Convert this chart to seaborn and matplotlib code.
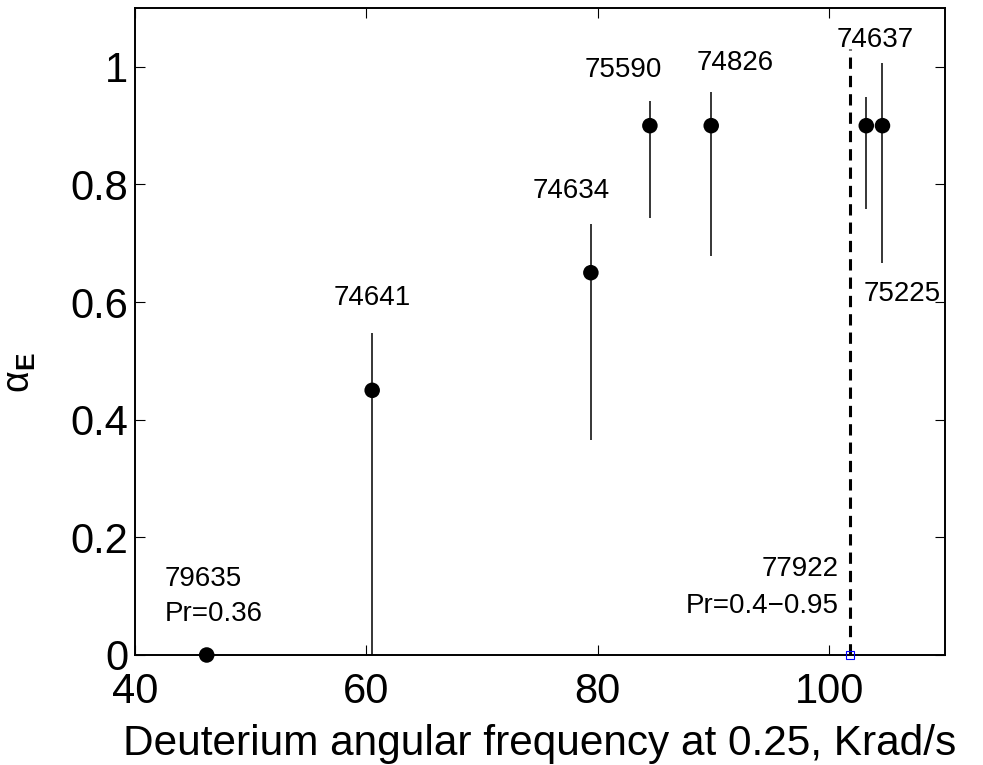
import matplotlib
matplotlib.use("Agg")
import matplotlib.pyplot as plt
import numpy as np
import pandas as pd
import seaborn as sns

# ---- data ----
shots = ["79635", "74641", "74634", "75590", "74826", "74637", "75225"]
freq = [46.2, 60.5, 79.4, 84.5, 89.8, 103.2, 104.6]
alpha_e = [0.0, 0.45, 0.65, 0.90, 0.90, 0.90, 0.90]
err_low = [0.0, 0.0, 0.365, 0.743, 0.679, 0.758, 0.667]
err_high = [0.0, 0.547, 0.733, 0.942, 0.958, 0.948, 1.007]

limit_shot = "77922"
limit_freq = 101.8
limit_top = 1.03
limit_pr = "Pr=0.4\u22120.95"
first_pr = "Pr=0.36"

xticks = [40, 60, 80, 100]
yticks = [0, 0.2, 0.4, 0.6, 0.8, 1.0]
yticklabels = ["0", "0.2", "0.4", "0.6", "0.8", "1"]
xlabel = "Deuterium angular frequency at 0.25, Krad/s"
ylabel = r"$\mathrm{\alpha}_{\mathbf{E}}$"

df = pd.DataFrame({"shot": shots, "freq": freq, "alpha": alpha_e,
                   "lo": err_low, "hi": err_high})

sns.set_style("white")
plt.rcParams["font.family"] = ["Liberation Sans", "DejaVu Sans"]
plt.rcParams["mathtext.fontset"] = "custom"
plt.rcParams["mathtext.rm"] = "Liberation Sans"
plt.rcParams["mathtext.it"] = "Liberation Sans:italic"
plt.rcParams["mathtext.bf"] = "Liberation Sans:bold"
for key in ["text.color", "axes.labelcolor", "xtick.color", "ytick.color",
            "axes.edgecolor"]:
    plt.rcParams[key] = "black"

fig = plt.figure(figsize=(9.83, 7.65), dpi=100)
ax = fig.add_axes([0.1373, 0.1438, 0.824, 0.8457])

# error bars
ax.vlines(df["freq"], df["lo"], df["hi"], color="black", lw=1.1, zorder=2)
# points
sns.scatterplot(data=df, x="freq", y="alpha", color="black", s=125,
                edgecolor="none", ax=ax, zorder=3, clip_on=False, legend=False)

# limit line for 77922
ax.plot([limit_freq, limit_freq], [0, limit_top], color="black", lw=2.2,
        dashes=(3.7, 2.3), zorder=2)
ax.plot([limit_freq], [0], marker="s", mfc="none", mec="blue", ms=6,
        mew=0.8, clip_on=False, zorder=4)

# annotations (offsets relative to each point)
fs = 20
ax.text(df.freq[0] - 3.6, 0.129, shots[0], fontsize=fs, ha="left", va="center")
ax.text(df.freq[0] - 3.6, 0.07, first_pr, fontsize=fs, ha="left", va="center")
ax.text(df.freq[1], 0.607, shots[1], fontsize=fs, ha="center", va="center")
ax.text(df.freq[2] - 1.7, 0.789, shots[2], fontsize=fs, ha="center", va="center")
ax.text(df.freq[3] - 2.3, 0.995, shots[3], fontsize=fs, ha="center", va="center")
ax.text(df.freq[4] + 2.1, 1.007, shots[4], fontsize=fs, ha="center", va="center")
ax.text(df.freq[5] + 0.8, 1.046, shots[5], fontsize=fs, ha="center", va="center")
ax.text(df.freq[6] + 1.7, 0.614, shots[6], fontsize=fs, ha="center", va="center")
ax.text(limit_freq - 1.0, 0.146, limit_shot, fontsize=fs, ha="right", va="center")
ax.text(limit_freq - 1.0, 0.083, limit_pr, fontsize=fs, ha="right", va="center")

ax.set_xlim(40, 110)
ax.set_ylim(0, 1.1)
ax.set_xticks(xticks)
ax.set_xticklabels([str(t) for t in xticks])
ax.set_yticks(yticks)
ax.set_yticklabels(yticklabels)
ax.tick_params(direction="in", length=7, width=0.8, labelsize=30,
               top=True, right=True, bottom=True, left=True, color="black")
ax.tick_params(axis="x", pad=12)
ax.tick_params(axis="y", pad=5)
for sp in ax.spines.values():
    sp.set_visible(True)
    sp.set_color("black")
    sp.set_linewidth(1.4)

ax.set_xlabel(xlabel, fontsize=30.5, labelpad=9)
ax.set_ylabel(ylabel, fontsize=27)
ax.yaxis.set_label_coords(-0.12, 0.436)

fig.savefig("out.png", dpi=100)
